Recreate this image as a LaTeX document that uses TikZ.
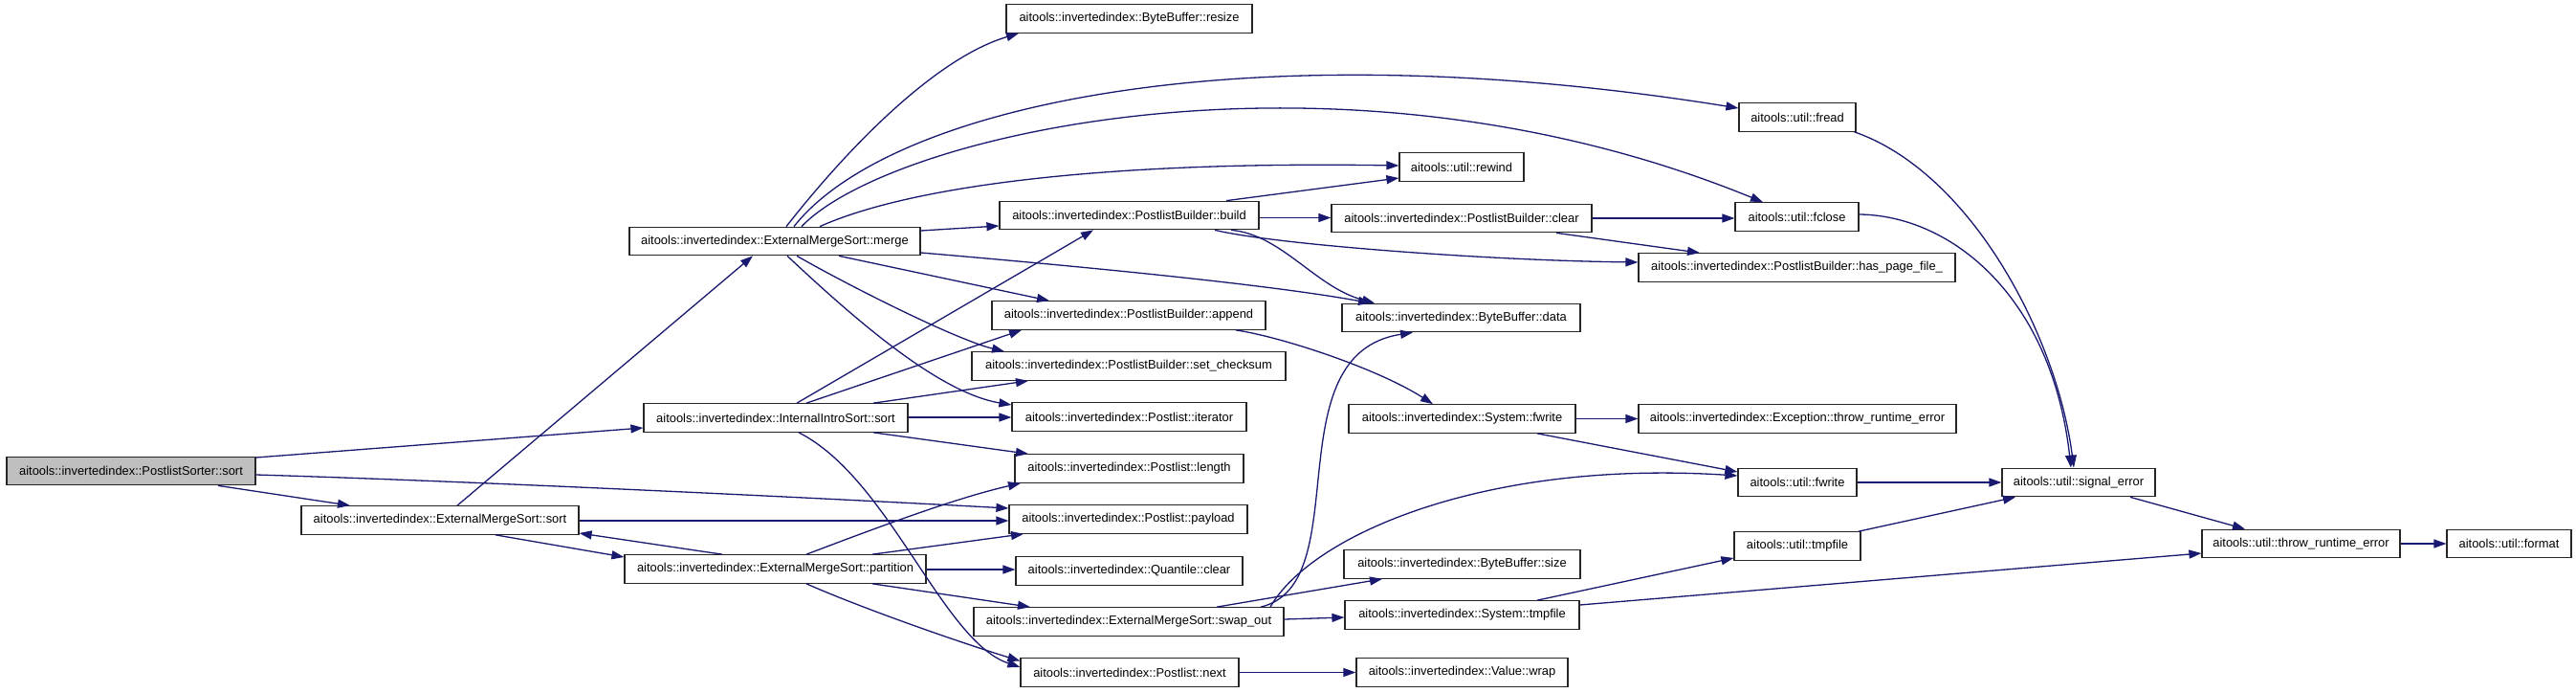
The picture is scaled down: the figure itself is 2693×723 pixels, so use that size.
\documentclass[tikz,border=0pt]{standalone}
\usepackage{fontspec}
\setmainfont{Liberation Sans}
\usetikzlibrary{arrows.meta,calc}
\definecolor{edgeblue}{RGB}{25,25,112}
\definecolor{rootgray}{RGB}{191,191,191}
\begin{document}
\begin{tikzpicture}[x=1pt,y=-1pt,
  fn/.style={draw=black!85, line width=1.2pt, fill=white, inner sep=0pt,
    minimum height=29.5pt, font=\fontsize{12.9pt}{15pt}\selectfont},
  call/.style={draw=edgeblue, line width=1.3pt, -{Triangle[length=13pt,width=9pt]}}]
\useasboundingbox[fill=white] (0,0) rectangle (2693,723);
% nodes
\node[fn, minimum width=260pt, fill=rootgray] (PS) at (137,492) {aitools::invertedindex::PostlistSorter::sort};
\node[fn, minimum width=290pt] (EMSs) at (460,543.5) {aitools::invertedindex::ExternalMergeSort::sort};
\node[fn, minimum width=304pt] (merge) at (810,252) {aitools::invertedindex::ExternalMergeSort::merge};
\node[fn, minimum width=276pt] (IIS) at (811,436.5) {aitools::invertedindex::InternalIntroSort::sort};
\node[fn, minimum width=315pt] (part) at (810.5,594.5) {aitools::invertedindex::ExternalMergeSort::partition};
\node[fn, minimum width=257pt] (resize) at (1180.5,19.5) {aitools::invertedindex::ByteBuffer::resize};
\node[fn, minimum width=271pt] (build) at (1180.5,225) {aitools::invertedindex::PostlistBuilder::build};
\node[fn, minimum width=286pt] (append) at (1180,329.5) {aitools::invertedindex::PostlistBuilder::append};
\node[fn, minimum width=328pt] (setck) at (1180,382.5) {aitools::invertedindex::PostlistBuilder::set\_checksum};
\node[fn, minimum width=245pt] (iter) at (1180.5,435.5) {aitools::invertedindex::Postlist::iterator};
\node[fn, minimum width=239pt] (length) at (1180.5,489.5) {aitools::invertedindex::Postlist::length};
\node[fn, minimum width=249pt] (payload) at (1179.5,542.5) {aitools::invertedindex::Postlist::payload};
\node[fn, minimum width=237pt] (qclear) at (1180.5,596.5) {aitools::invertedindex::Quantile::clear};
\node[fn, minimum width=324pt] (swap) at (1180,649.5) {aitools::invertedindex::ExternalMergeSort::swap\_out};
\node[fn, minimum width=228pt] (next) at (1181,702.5) {aitools::invertedindex::Postlist::next};
\node[fn, minimum width=130pt] (rewind) at (1528,174.5) {aitools::util::rewind};
\node[fn, minimum width=272pt] (pbclear) at (1528,228) {aitools::invertedindex::PostlistBuilder::clear};
\node[fn, minimum width=249pt] (data) at (1527.5,332) {aitools::invertedindex::ByteBuffer::data};
\node[fn, minimum width=237pt] (sfwrite) at (1528.5,437.5) {aitools::invertedindex::System::fwrite};
\node[fn, minimum width=247pt] (bbsize) at (1528.5,589.5) {aitools::invertedindex::ByteBuffer::size};
\node[fn, minimum width=245pt] (stmp) at (1528.5,642.5) {aitools::invertedindex::System::tmpfile};
\node[fn, minimum width=221pt] (wrap) at (1528.5,702.5) {aitools::invertedindex::Value::wrap};
\node[fn, minimum width=122pt] (fread) at (1879,122.5) {aitools::util::fread};
\node[fn, minimum width=129pt] (fclose) at (1878.5,226.5) {aitools::util::fclose};
\node[fn, minimum width=331pt] (haspf) at (1878.5,279.5) {aitools::invertedindex::PostlistBuilder::has\_page\_file\_};
\node[fn, minimum width=332pt] (exc) at (1879,437.5) {aitools::invertedindex::Exception::throw\_runtime\_error};
\node[fn, minimum width=124pt] (ufwrite) at (1879,504) {aitools::util::fwrite};
\node[fn, minimum width=132pt] (utmp) at (1879,570.5) {aitools::util::tmpfile};
\node[fn, minimum width=160pt] (sigerr) at (2173,504) {aitools::util::signal\_error};
\node[fn, minimum width=207pt] (thr) at (2405.5,568) {aitools::util::throw\_runtime\_error};
\node[fn, minimum width=130pt] (format) at (2623,568) {aitools::util::format};
% edges
\draw[call] ($(PS.east)+(0,-14)$) -- ($(IIS.west)+(0,10.5)$);
\draw[call] ($(PS.south)+(91,0)$) -- ($(EMSs.north)+(-94,0)$);
\draw[call] ($(PS.east)+(0,4)$) .. controls (500,503) and (850,520) .. ($(payload.west)+(0,-11.5)$);
\draw[call] ($(EMSs.north)+(18,0)$) -- ($(merge.south)+(-23,0)$);
\draw[call] ($(EMSs.east)+(0,0.5)$) -- ($(payload.west)+(0,1.5)$);
\draw[call] ($(EMSs.south)+(58,0)$) -- ($(part.west)+(0,-12.5)$);
\draw[call] ($(part.north)+(-55.5,0)$) -- ($(EMSs.east)+(0,13.5)$);
% merge
\draw[call] ($(merge.north)+(12,0)$) .. controls (890,150) and (980,60) .. ($(resize.south)+(-115.5,0)$);
\draw[call] ($(merge.north)+(20,0)$) .. controls (930,110) and (1300,30) .. ($(fread.west)+(0,-9.5)$);
\draw[call] ($(merge.north)+(28,0)$) .. controls (930,140) and (1400,30) .. ($(fclose.north)+(-35.5,0)$);
\draw[call] ($(merge.north)+(47,0)$) .. controls (950,195) and (1150,168) .. ($(rewind.west)+(0,-1.5)$);
\draw[call] ($(merge.east)+(0,-11)$) -- ($(build.west)+(0,11)$);
\draw[call] ($(merge.east)+(0,12)$) .. controls (1150,280) and (1330,298) .. ($(data.north)+(-94.5,0)$);
\draw[call] ($(merge.south)+(67,0)$) -- ($(append.north)+(-83,0)$);
\draw[call] ($(merge.south)+(23,0)$) .. controls (890,300) and (1000,355) .. ($(setck.north)+(-130,0)$);
\draw[call] ($(merge.south)+(13,0)$) .. controls (890,330) and (980,410) .. ($(iter.west)+(0,-12.5)$);
% internal intro sort
\draw[call] ($(IIS.north)+(22,0)$) -- ($(build.south)+(-37.5,0)$);
\draw[call] ($(IIS.north)+(32,0)$) -- ($(append.south)+(-112,0)$);
\draw[call] ($(IIS.north)+(102,0)$) -- ($(setck.south)+(-105,0)$);
\draw[call] ($(IIS.east)+(0,-0.5)$) -- ($(iter.west)+(0,0.5)$);
\draw[call] ($(IIS.south)+(102,0)$) -- ($(length.north)+(-105.5,0)$);
\draw[call] ($(IIS.south)+(24,0)$) .. controls (930,500) and (985,670) .. ($(next.west)+(0,-5.5)$);
% partition
\draw[call] ($(part.north)+(32.5,0)$) .. controls (920,550) and (1000,520) .. ($(length.south)+(-113.5,0)$);
\draw[call] ($(part.north)+(101.5,0)$) -- ($(payload.south)+(-109.5,0)$);
\draw[call] ($(part.east)+(0,0.5)$) -- ($(qclear.west)+(0,-1.5)$);
\draw[call] ($(part.south)+(101.5,0)$) -- ($(swap.north)+(-103,0)$);
\draw[call] ($(part.south)+(32.5,0)$) .. controls (900,635) and (1000,670) .. ($(next.west)+(0,-12)$);
% build
\draw[call] ($(build.north)+(101.5,0)$) -- ($(rewind.west)+(0,11.5)$);
\draw[call] ($(build.east)+(0,2.5)$) -- ($(pbclear.west)+(0,-0.5)$);
\draw[call] ($(build.south)+(89.5,0)$) .. controls (1330,255) and (1550,272) .. ($(haspf.west)+(0,-5.5)$);
\draw[call] ($(build.south)+(106.5,0)$) .. controls (1340,245) and (1375,300) .. ($(data.north)+(-90.5,0)$);
% builder clear
\draw[call] (pbclear.east) -- ($(fclose.west)+(0,1.5)$);
\draw[call] ($(pbclear.south)+(99,0)$) -- ($(haspf.north)+(-101.5,0)$);
% append
\draw[call] ($(append.south)+(112,0)$) .. controls (1340,352) and (1440,385) .. ($(sfwrite.north)+(-30.5,0)$);
% system fwrite
\draw[call] (sfwrite.east) -- (exc.west);
\draw[call] ($(sfwrite.south)+(78.5,0)$) -- ($(ufwrite.west)+(0,-11)$);
% swap out
\draw[call] ($(swap.north)+(138,0)$) .. controls (1420,610) and (1330,370) .. ($(data.south)+(-50.5,0)$);
\draw[call] ($(swap.north)+(148,0)$) .. controls (1370,560) and (1550,480) .. ($(ufwrite.west)+(0,-7)$);
\draw[call] ($(swap.north)+(92,0)$) -- ($(bbsize.south)+(-83.5,0)$);
\draw[call] ($(swap.east)+(0,-2.5)$) -- ($(stmp.west)+(0,2.5)$);
% system tmpfile
\draw[call] ($(stmp.north)+(78.5,0)$) -- ($(utmp.west)+(0,12.5)$);
\draw[call] ($(stmp.east)+(0,-10.5)$) -- ($(thr.west)+(0,10)$);
% next
\draw[call] (next.east) -- (wrap.west);
% util
\draw[call] ($(fread.south east)+(-2,0)$) .. controls (2060,180) and (2150,350) .. ($(sigerr.north)+(-5,0)$);
\draw[call] ($(fclose.east)+(0,-2.5)$) .. controls (2040,225) and (2145,310) .. ($(sigerr.north)+(-8,0)$);
\draw[call] (ufwrite.east) -- (sigerr.west);
\draw[call] ($(utmp.north)+(64,0)$) -- ($(sigerr.south)+(-66,0)$);
\draw[call] ($(sigerr.south)+(54,0)$) -- ($(thr.north)+(-58.5,0)$);
\draw[call] (thr.east) -- (format.west);
\end{tikzpicture}
\end{document}
